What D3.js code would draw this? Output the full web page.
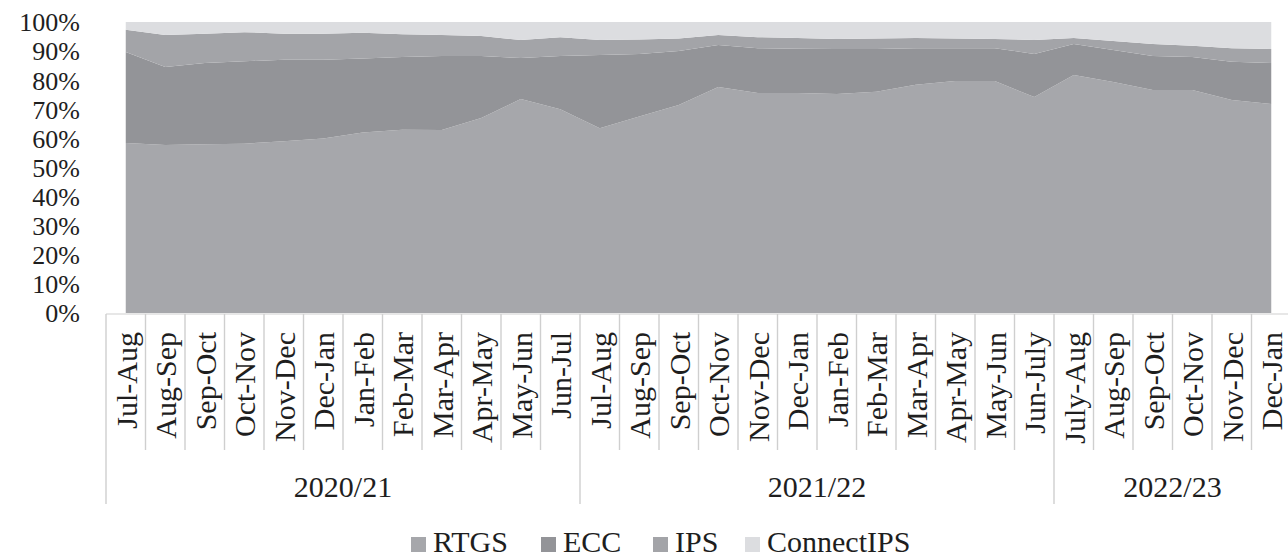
<!DOCTYPE html>
<html><head><meta charset="utf-8">
<script src="https://cdn.jsdelivr.net/npm/d3@7"></script>
<style>body{margin:0;background:#fff;} svg{display:block;font-family:"Liberation Serif","Times New Roman",serif;}</style>
</head><body>
<svg id="c" width="1288" height="559"></svg>
<script>
const categories = ["Jul-Aug","Aug-Sep","Sep-Oct","Oct-Nov","Nov-Dec","Dec-Jan","Jan-Feb","Feb-Mar","Mar-Apr","Apr-May","May-Jun","Jun-Jul",
  "Jul-Aug","Aug-Sep","Sep-Oct","Oct-Nov","Nov-Dec","Dec-Jan","Jan-Feb","Feb-Mar","Mar-Apr","Apr-May","May-Jun","Jun-July",
  "July-Aug","Aug-Sep","Sep-Oct","Oct-Nov","Nov-Dec","Dec-Jan"];
const years = ["2020/21","2021/22","2022/23"];
const yearCounts = [12,12,6];
const rtgs = [58.4,57.7,58.0,58.2,59.0,60.0,62.0,63.0,62.9,67.0,73.5,70.0,63.5,67.5,71.5,77.7,75.6,75.6,75.3,76.0,78.4,79.7,79.7,74.2,81.8,79.4,76.6,76.6,73.2,71.8];
const ecc = [31.3,26.8,27.9,28.3,28.0,27.0,25.5,25.0,25.4,21.3,14.1,18.3,25.2,21.5,18.5,14.4,15.4,15.2,15.4,14.7,12.6,11.3,11.3,14.8,10.6,11.0,11.7,11.4,13.1,14.1];
const ips = [7.6,11.0,10.1,10.0,9.0,9.0,8.8,7.8,7.2,6.9,6.2,6.5,5.1,5.0,4.3,3.4,3.8,3.7,3.5,3.6,3.5,3.3,3.2,4.8,2.1,3.1,4.1,3.8,4.7,4.8];
const connectips = [2.7,4.5,4.0,3.5,4.0,4.0,3.7,4.2,4.5,4.8,6.2,5.2,6.2,6.0,5.7,4.5,5.2,5.5,5.8,5.7,5.5,5.7,5.8,6.2,5.5,6.5,7.6,8.2,9.0,9.3];
const seriesNames = ["RTGS","ECC","IPS","ConnectIPS"];
const yTicks = [0,10,20,30,40,50,60,70,80,90,100];

(function(){
const colors = {RTGS:"#a6a7ab", ECC:"#939498", IPS:"#a3a4a8", ConnectIPS:"#dcdde0"};
const rows = categories.map((c,i)=>({i, RTGS:rtgs[i], ECC:ecc[i], IPS:ips[i], ConnectIPS:connectips[i]}));
const FS = 30, textColor = "#1e1e1e";

const svg = d3.select("#c");
const mLeft = 106, mRight = 1291, mTop = 22, mBottom = 313;
const x = d3.scaleBand().domain(d3.range(categories.length)).range([mLeft,mRight]).paddingInner(0).paddingOuter(0);
const cx = i => x(i) + x.bandwidth()/2;
const y = d3.scaleLinear().domain([0,100]).range([mBottom,mTop]);

const stack = d3.stack().keys(seriesNames)(rows);
const area = d3.area().x(d=>cx(d.data.i)).y0(d=>y(d[0])).y1(d=>y(d[1]));
svg.append("g").selectAll("path").data(stack).join("path")
  .attr("d", area).attr("fill", d=>colors[d.key]);

// y axis labels
const yAxis = d3.axisLeft(y).tickValues(yTicks).tickFormat(d=>d+"%").tickSize(0).tickPadding(0);
const yg = svg.append("g").attr("transform","translate(80,0)").call(yAxis);
yg.select(".domain").remove();
yg.selectAll("text").attr("font-size",26).attr("fill",textColor).attr("font-family","Liberation Serif, serif").attr("dy","0.34em");

// x axis multi-level
const lineColor = "#cfcfcf";
const ax = svg.append("g");
ax.append("line").attr("x1",mLeft).attr("x2",mRight).attr("y1",mBottom+1).attr("y2",mBottom+1).attr("stroke",lineColor).attr("stroke-width",1.2);
const yearStarts = [0];
yearCounts.forEach((n,k)=>yearStarts.push(yearStarts[k]+n));
d3.range(categories.length+1).forEach(i=>{
  const xx = i < categories.length ? x(i) : mRight;
  const isYear = yearStarts.includes(i);
  ax.append("line").attr("x1",xx).attr("x2",xx).attr("y1",mBottom+1).attr("y2", isYear?504:450)
    .attr("stroke",lineColor).attr("stroke-width",1.4);
});
ax.selectAll("text.cat").data(categories).join("text").attr("class","cat")
  .attr("transform",(d,i)=>`translate(${cx(i)+11},332) rotate(-90)`)
  .attr("text-anchor","end").attr("font-size",FS).attr("fill",textColor).text(d=>d);
years.forEach((yr,k)=>{
  const x0 = x(yearStarts[k]);
  const x1 = yearStarts[k+1] < categories.length ? x(yearStarts[k+1]) : mRight;
  ax.append("text").attr("x",(x0+x1)/2).attr("y",497).attr("text-anchor","middle")
    .attr("font-size",FS).attr("fill",textColor).text(yr);
});

// legend
const legendX = [411,541,653,745];
const lg = svg.append("g");
seriesNames.forEach((s,k)=>{
  lg.append("rect").attr("x",legendX[k]).attr("y",537).attr("width",15).attr("height",15).attr("fill",colors[s]);
  lg.append("text").attr("x",legendX[k]+22).attr("y",552).attr("font-size",FS).attr("fill",textColor).text(s);
});
})();
</script>
</body></html>
